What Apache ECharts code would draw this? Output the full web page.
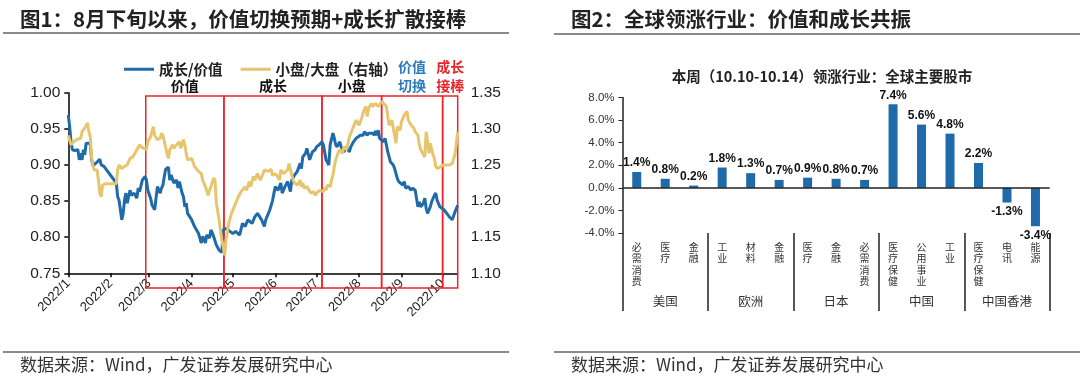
<!DOCTYPE html>
<html><head><meta charset="utf-8">
<script src="https://cdn.jsdelivr.net/npm/echarts@6/dist/echarts.min.js"></script>
<style>html,body{margin:0;padding:0;background:#fff}#c{width:1080px;height:379px}</style>
</head><body><div id="c"></div>
<script>
// ---------- Data: left chart (days since 2022-01-01) ----------
const blueDays = [0,1,2,3,5,7,8,9,10,11,12,13,14,16,17,18,21,23,24,26,35,36,37,38,39,40,41,42,43,45,46,47,48,50,51,52,54,56,57,58,60,61,63,64,65,67,68,69,70,71,73,74,75,77,79,80,81,83,84,85,86,87,90,92,95,97,98,100,101,103,104,106,108,110,112,113,115,118,120,122,125,127,129,131,132,134,136,138,141,143,144,147,149,150,151,153,155,156,158,159,160,162,163,165,167,169,170,171,173,174,175,176,178,180,181,183,185,186,187,188,190,191,193,194,195,196,198,199,201,203,205,206,208,210,211,213,215,216,218,219,220,222,223,224,225,226,227,228,230,231,233,235,237,238,240,241,242,244,245,246,248,250,251,253,255,256,257,259,260,261,262,264,265,267,268,269,271,272,274,276,278,280,282,284];
const growthValue = [0.969,0.953,0.932,0.921,0.920,0.921,0.907,0.916,0.907,0.921,0.914,0.930,0.932,0.930,0.907,0.899,0.904,0.908,0.900,0.898,0.875,0.856,0.851,0.838,0.824,0.833,0.851,0.861,0.847,0.865,0.858,0.856,0.861,0.854,0.868,0.863,0.879,0.884,0.879,0.865,0.854,0.845,0.838,0.854,0.870,0.861,0.868,0.872,0.884,0.894,0.897,0.879,0.886,0.875,0.879,0.868,0.877,0.861,0.856,0.842,0.847,0.833,0.824,0.815,0.805,0.792,0.801,0.792,0.803,0.799,0.810,0.801,0.789,0.782,0.779,0.810,0.812,0.808,0.805,0.808,0.803,0.819,0.815,0.824,0.826,0.819,0.828,0.833,0.824,0.815,0.824,0.838,0.851,0.861,0.870,0.865,0.875,0.861,0.870,0.868,0.877,0.863,0.879,0.886,0.891,0.902,0.895,0.911,0.916,0.923,0.925,0.907,0.918,0.921,0.925,0.928,0.932,0.928,0.930,0.907,0.900,0.928,0.944,0.937,0.928,0.925,0.932,0.925,0.918,0.925,0.918,0.925,0.932,0.937,0.939,0.941,0.941,0.946,0.941,0.944,0.946,0.944,0.941,0.947,0.941,0.948,0.937,0.935,0.932,0.937,0.918,0.904,0.900,0.895,0.881,0.877,0.879,0.872,0.877,0.868,0.870,0.865,0.868,0.865,0.842,0.849,0.842,0.847,0.854,0.840,0.833,0.842,0.849,0.858,0.861,0.851,0.842,0.840,0.838,0.833,0.828,0.824,0.835,0.844];
const goldDays = [0,2,4,6,9,10,12,14,15,16,17,18,19,21,22,23,24,25,27,35,36,37,39,41,43,45,46,47,50,52,53,55,57,58,60,62,63,65,67,68,69,70,72,73,74,76,77,79,81,82,84,85,86,87,90,92,95,97,98,100,102,103,104,106,107,108,110,112,113,114,115,117,119,121,124,126,129,130,132,133,135,136,138,140,142,143,146,148,149,150,152,154,155,157,158,160,161,163,164,165,166,167,169,170,171,172,174,175,177,179,180,182,183,184,186,187,188,189,191,192,193,194,195,197,198,200,201,203,205,207,209,210,212,214,215,217,218,219,221,222,224,226,229,230,232,233,234,236,237,239,240,242,243,245,247,248,250,252,253,255,256,257,258,260,261,262,263,264,266,267,268,269,272,274,278,280,282,284];
const smallLarge = [1.291,1.278,1.282,1.285,1.287,1.296,1.301,1.308,1.296,1.289,1.261,1.248,1.243,1.243,1.229,1.211,1.206,1.222,1.224,1.224,1.243,1.250,1.245,1.248,1.250,1.259,1.257,1.261,1.271,1.278,1.275,1.273,1.271,1.282,1.289,1.303,1.291,1.285,1.287,1.294,1.291,1.291,1.266,1.259,1.271,1.278,1.273,1.278,1.282,1.273,1.285,1.278,1.266,1.257,1.259,1.248,1.241,1.238,1.229,1.220,1.208,1.215,1.220,1.232,1.229,1.197,1.174,1.146,1.137,1.125,1.146,1.169,1.183,1.192,1.206,1.213,1.220,1.215,1.227,1.220,1.234,1.229,1.238,1.229,1.238,1.243,1.241,1.244,1.235,1.238,1.236,1.229,1.243,1.238,1.236,1.243,1.252,1.236,1.229,1.225,1.227,1.222,1.229,1.220,1.225,1.218,1.220,1.218,1.211,1.213,1.208,1.213,1.211,1.215,1.213,1.218,1.215,1.222,1.220,1.229,1.236,1.248,1.257,1.268,1.271,1.266,1.275,1.271,1.289,1.298,1.308,1.312,1.305,1.315,1.322,1.331,1.317,1.328,1.335,1.331,1.335,1.331,1.338,1.335,1.331,1.317,1.305,1.312,1.310,1.280,1.303,1.298,1.310,1.319,1.324,1.312,1.305,1.301,1.296,1.291,1.278,1.271,1.273,1.261,1.296,1.282,1.266,1.280,1.264,1.259,1.248,1.245,1.248,1.250,1.250,1.252,1.264,1.296];
const seriesNames = ['成长/价值', '小盘/大盘（右轴）'];
// phase boxes (days since 2022-01-01) and their labels
const boxEdges = [56.5, 113.5, 185, 228.5, 273, 284];
const boxLabels = ['价值', '成长', '小盘', '价值\n切换', '成长\n接棒'];
const boxLabelColors = ['#111', '#111', '#111', '#2b7bbf', '#e8262a'];

// ---------- Data: right chart ----------
const industries = ['必需消费','医疗','金融','工业','材料','金融','医疗','金融','必需消费','医疗保健','公用事业','工业','医疗保健','电讯','能源'];
const regions = ['美国','欧洲','日本','中国','中国香港'];
const weeklyReturn = [1.4,0.8,0.2,1.8,1.3,0.7,0.9,0.8,0.7,7.4,5.6,4.8,2.2,-1.3,-3.4];

// ---------- Build ----------
const DAY = 86400000, T0 = Date.UTC(2022,0,1);
const monthStarts = [];
for (let m = 0; m < 10; m++) monthStarts.push(Math.round((Date.UTC(2022,m,1)-T0)/DAY));
const monthLabel = d => { const dt = new Date(T0 + d*DAY); return '2022/' + (dt.getUTCMonth()+1); };

const CJK = '"Noto Sans CJK SC", sans-serif';
const LAT = '"Liberation Sans", Arial, sans-serif';
const BLUE = '#1f6aa8', GOLD = '#e6c56c', RED = '#e8262a';

const boxData = boxLabels.map((t, i) => [
  {name: t, yAxis: 0, xAxis: boxEdges[i], label: {color: boxLabelColors[i]}},
  {yAxis: 1, xAxis: boxEdges[i+1]}
]);

const chart = echarts.init(document.getElementById('c'));
chart.setOption({
  animation: false,
  textStyle: {fontFamily: LAT},
  title: [
    {text: '图1：8月下旬以来，价值切换预期+成长扩散接棒', left: 15, top: 4,
     textStyle: {fontFamily: CJK, fontSize: 20.5, fontWeight: 'bold', color: '#222'}},
    {text: '图2：全球领涨行业：价值和成长共振', left: 566, top: 4,
     textStyle: {fontFamily: CJK, fontSize: 20.5, fontWeight: 'bold', color: '#222'}},
    {text: '本周（10.10-10.14）领涨行业：全球主要股市', left: 817, top: 64, textAlign: 'center',
     textStyle: {fontFamily: CJK, fontSize: 14.5, fontWeight: 'bold', color: '#222'}},
    {text: '数据来源：Wind，广发证券发展研究中心', left: 15, top: 351,
     textStyle: {fontFamily: CJK, fontSize: 17, fontWeight: 'normal', color: '#333'}},
    {text: '数据来源：Wind，广发证券发展研究中心', left: 566, top: 351,
     textStyle: {fontFamily: CJK, fontSize: 17, fontWeight: 'normal', color: '#333'}}
  ],
  graphic: [
    {type: 'line', shape: {x1: 3, y1: 33, x2: 509, y2: 33}, style: {stroke: '#8a8a8a', lineWidth: 2}},
    {type: 'line', shape: {x1: 554, y1: 34, x2: 1080, y2: 34}, style: {stroke: '#8a8a8a', lineWidth: 2}},
    {type: 'line', shape: {x1: 3, y1: 352, x2: 509, y2: 352}, style: {stroke: '#8a8a8a', lineWidth: 2}},
    {type: 'line', shape: {x1: 554, y1: 352, x2: 1080, y2: 352}, style: {stroke: '#8a8a8a', lineWidth: 2}}
  ],
  legend: {
    left: 119, top: 57, itemWidth: 30, itemHeight: 3, itemGap: 18, icon: 'rect',
    data: seriesNames,
    textStyle: {fontFamily: CJK, fontSize: 14.5, fontWeight: 'bold', color: '#222'}
  },
  grid: [
    {left: 68.3, right: 622.3, top: 92.7, bottom: 105.7},
    {left: 68.3, right: 622.3, top: 96, bottom: 91},
    {left: 622.5, right: 30.3, top: 97.5, bottom: 146}
  ],
  xAxis: [
    {gridIndex: 0, type: 'value', min: 0, max: 284,
     splitLine: {show: false},
     axisLine: {lineStyle: {color: '#000', width: 1.5}},
     axisTick: {customValues: monthStarts, length: 4, lineStyle: {color: '#000', width: 1.5}},
     axisLabel: {customValues: monthStarts, rotate: 45, formatter: monthLabel, fontSize: 13, color: '#222', margin: 8}},
    {gridIndex: 1, type: 'value', min: 0, max: 284, show: false},
    {gridIndex: 2, type: 'category', data: industries, position: 'bottom',
     axisLine: {show: false}, axisTick: {show: false},
     axisLabel: {interval: 0, margin: 8, verticalAlign: 'top', fontFamily: CJK, fontSize: 10, lineHeight: 11.5, color: '#333',
                 formatter: s => s.split('').join('\n')}},
    {gridIndex: 2, type: 'category', data: regions, position: 'bottom', offset: 78,
     axisLine: {show: false},
     axisTick: {show: true, inside: true, length: 78, interval: 0, lineStyle: {color: '#222', width: 1.5}},
     axisLabel: {inside: true, interval: 0, margin: 3, fontFamily: CJK, fontSize: 12.5, color: '#333'}}
  ],
  yAxis: [
    {gridIndex: 0, type: 'value', min: 0.75, max: 1.0, interval: 0.05, position: 'left',
     splitLine: {show: false},
     axisLine: {show: true, lineStyle: {color: '#000', width: 1.5}},
     axisTick: {show: true, length: 4, lineStyle: {color: '#000', width: 1.5}},
     axisLabel: {formatter: v => v.toFixed(2), fontSize: 15.5, color: '#222', margin: 8}},
    {gridIndex: 0, type: 'value', min: 1.10, max: 1.35, interval: 0.05, position: 'right',
     splitLine: {show: false}, axisLine: {show: false}, axisTick: {show: false},
     axisLabel: {formatter: v => v.toFixed(2), fontSize: 15.5, color: '#222', margin: 13}},
    {gridIndex: 1, type: 'value', min: 0, max: 1, show: false},
    {gridIndex: 2, type: 'value', min: -4, max: 8, interval: 2,
     splitLine: {show: false},
     axisLine: {show: true, lineStyle: {color: '#222', width: 1.5}},
     axisTick: {show: true, length: 4, lineStyle: {color: '#222'}},
     axisLabel: {formatter: v => v.toFixed(1) + '%', fontSize: 11.5, color: '#333', margin: 8}}
  ],
  series: [
    {name: seriesNames[0], type: 'line', xAxisIndex: 0, yAxisIndex: 0, showSymbol: false, z: 3,
     color: BLUE, lineStyle: {color: BLUE, width: 3},
     data: blueDays.map((d, i) => [d, growthValue[i]])},
    {name: seriesNames[1], type: 'line', xAxisIndex: 0, yAxisIndex: 1, showSymbol: false, z: 4,
     color: GOLD, lineStyle: {color: GOLD, width: 3},
     data: goldDays.map((d, i) => [d, smallLarge[i]])},
    {name: 'boxes', type: 'line', xAxisIndex: 1, yAxisIndex: 2, showSymbol: false, silent: true,
     lineStyle: {width: 0, opacity: 0}, data: [[0, 0]], z: 5,
     markArea: {silent: true,
       itemStyle: {color: 'rgba(0,0,0,0)', borderColor: RED, borderWidth: 1.5},
       label: {show: true, position: 'top', distance: 0, fontFamily: CJK, fontSize: 14, fontWeight: 'bold', lineHeight: 19},
       data: boxData}},
    {name: 'weekly', type: 'bar', xAxisIndex: 2, yAxisIndex: 3, barWidth: 9,
     itemStyle: {color: BLUE},
     label: {show: true, fontSize: 12, fontWeight: 'bold', color: '#111', distance: 3,
             formatter: p => p.value.toFixed(1) + '%'},
     data: weeklyReturn.map(v => ({value: v, label: {position: v < 0 ? 'bottom' : 'top'}})),
     markLine: {silent: true, symbol: 'none', label: {show: false},
                lineStyle: {color: '#222', width: 1.5, type: 'solid'}, data: [{yAxis: 0}]}}
  ]
});
</script></body></html>
